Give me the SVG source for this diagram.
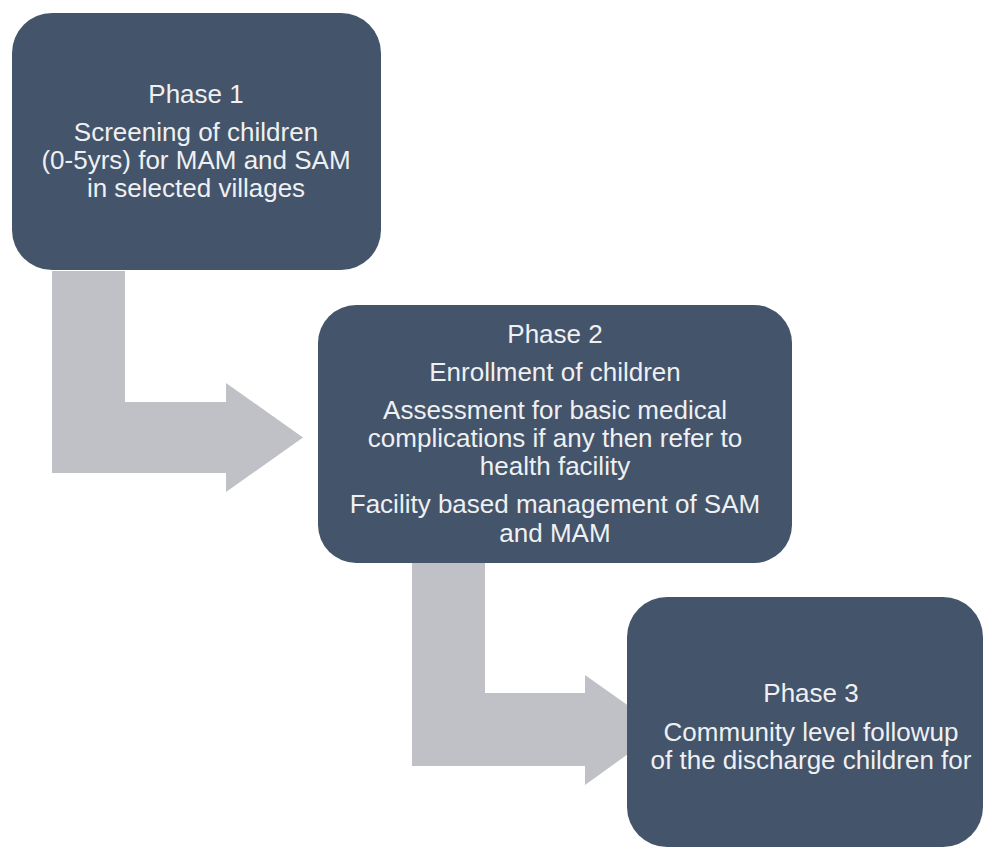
<svg xmlns="http://www.w3.org/2000/svg" width="984" height="850" viewBox="0 0 984 850">
<style>
.box{fill:#44546a;}
.arrow{fill:#c0c1c6;}
.t{font-family:"Liberation Sans",Arial,sans-serif;font-size:26px;fill:#eef0f2;text-anchor:middle;}
</style>
<rect width="984" height="850" fill="#ffffff"/>
<g id="connectors">
<polygon class="arrow" points="52,271 125,271 125,402 226,402 226,383 303,437.5 226,492 226,473 52,473"/>
<polygon class="arrow" points="412,563 485,563 485,693 585,693 585,675 662,729.5 585,785 585,766 412,766"/>
</g>
<g id="phase1">
<rect class="box" x="12" y="13" width="369" height="257" rx="40" ry="40"/>
<text class="t" x="196" y="103">Phase 1</text>
<text class="t" x="196" y="141">Screening of children</text>
<text class="t" x="196" y="169">(0-5yrs) for MAM and SAM</text>
<text class="t" x="196" y="197">in selected villages</text>
</g>
<g id="phase2">
<rect class="box" x="318" y="305" width="474" height="258" rx="38" ry="38"/>
<text class="t" x="555" y="343">Phase 2</text>
<text class="t" x="555" y="381">Enrollment of children</text>
<text class="t" x="555" y="419">Assessment for basic medical</text>
<text class="t" x="555" y="447">complications if any then refer to</text>
<text class="t" x="555" y="475">health facility</text>
<text class="t" x="555" y="513">Facility based management of SAM</text>
<text class="t" x="555" y="542">and MAM</text>
</g>
<g id="phase3">
<rect class="box" x="627" y="597" width="356" height="250" rx="40" ry="40"/>
<text class="t" x="811" y="702">Phase 3</text>
<text class="t" x="811" y="741">Community level followup</text>
<text class="t" x="811" y="769">of the discharge children for</text>
</g>
</svg>
